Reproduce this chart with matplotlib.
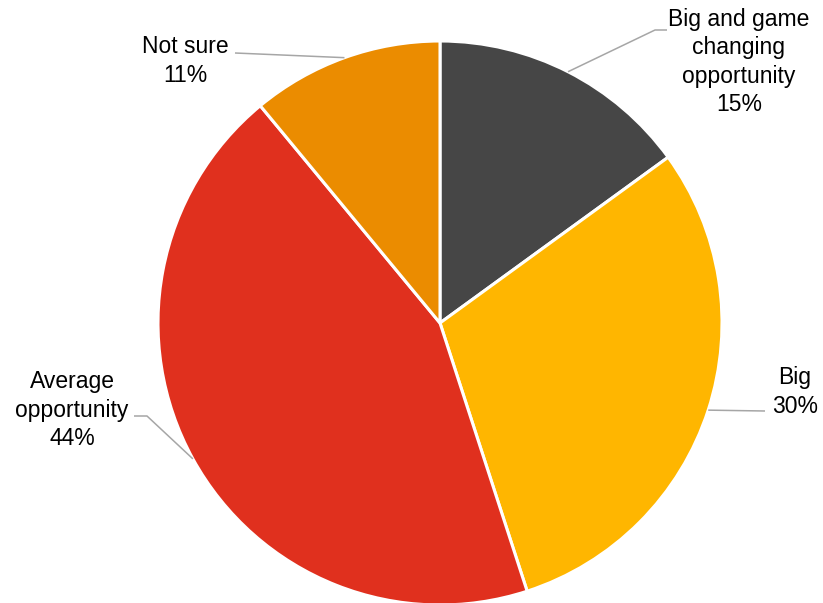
import numpy as np
import matplotlib
matplotlib.use("Agg")
import matplotlib.pyplot as plt

plt.rcParams['font.family'] = ['Liberation Sans', 'DejaVu Sans']

# Survey answers
labels = ["Big and game\nchanging\nopportunity", "Big", "Average\nopportunity", "Not sure"]
shares = [15, 30, 44, 11]
colors = ["#464646", "#FFB600", "#E0301E", "#EB8C00"]

W, H = 823, 603
fig = plt.figure(figsize=(W / 100, H / 100), dpi=100)
ax = fig.add_axes([0, 0, 1, 1])

cx, cy, R = 440, H - 323, 282
wedges, _ = ax.pie(shares, colors=colors, startangle=90, counterclock=False,
                   center=(cx, cy), radius=R,
                   wedgeprops=dict(edgecolor="white", linewidth=2.2))
ax.set_xlim(0, W)
ax.set_ylim(0, H)
ax.set_aspect("equal")
ax.axis("off")

# label block centres and leader-line elbows (pixel layout, y from top)
text_pos = [(739, 62), (795, 392), (72, 410), (185, 61)]
elbows = [[(655, 30), (667, 30)],
          [(765, 411)],
          [(147, 416), (134, 416)],
          [(235, 53)]]

for w, lab, val, (tx, ty), elb in zip(wedges, labels, shares, text_pos, elbows):
    mid = np.deg2rad((w.theta1 + w.theta2) / 2)
    sx, sy = cx + R * np.cos(mid), cy + R * np.sin(mid)
    xs = [sx] + [p[0] for p in elb]
    ys = [sy] + [H - p[1] for p in elb]
    ax.plot(xs, ys, color="#A6A6A6", linewidth=1.1, solid_capstyle="butt", zorder=1)
    ax.text(tx, H - ty, f"{lab}\n{val}%", ha="center", va="center",
            fontsize=16.5, color="black", linespacing=1.3)

fig.savefig("out.png", dpi=100, facecolor="white")
